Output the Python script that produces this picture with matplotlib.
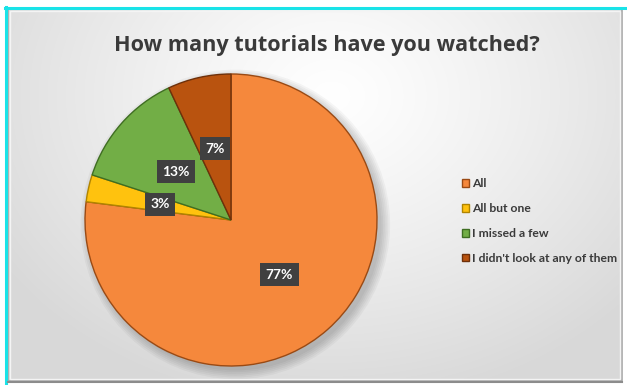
import numpy as np
import matplotlib
matplotlib.use("Agg")
import matplotlib.pyplot as plt
from matplotlib.patches import Rectangle, Circle

plt.rcParams['font.family'] = ['Lato', 'DejaVu Sans']

title = "How many tutorials have you watched?"
answers = ["All", "All but one", "I missed a few", "I didn't look at any of them"]
shares = [77, 3, 13, 7]
colors = ["#F5883C", "#FFC20E", "#72AE46", "#B9530F"]
edges = ["#9A4A14", "#B08400", "#3F6E22", "#6E300A"]

W, H = 627, 385
fig = plt.figure(figsize=(W / 100, H / 100), dpi=100)
fig.patch.set_facecolor("white")

# background panel with soft grey gradient
bg = fig.add_axes([0, 0, 1, 1], zorder=0)
bg.set_xlim(0, W)
bg.set_ylim(H, 0)
bg.axis("off")
yy, xx = np.mgrid[0:H, 0:W]
d = np.sqrt(((xx - 330) / 400.0) ** 2 + ((yy - 90) / 320.0) ** 2)
shade = 1.0 - 0.15 * np.clip(d, 0, 1) ** 1.2
img = np.dstack([shade, shade, shade])
bg.imshow(img, extent=(8, 622, 381, 9), aspect="auto", zorder=0)
# bevelled frame
bg.add_patch(Rectangle((8, 9), 614, 372, fill=False, ec="#a8a8a8", lw=1.2, zorder=1))
bg.add_patch(Rectangle((10, 11), 610, 368, fill=False, ec="#f4f4f4", lw=1.0, zorder=1))
bg.plot([5.5, 5.5], [7, 383], color="#19E3E8", lw=2.2, zorder=2)
bg.plot([5, W], [7.5, 7.5], color="#19E3E8", lw=2.2, zorder=2)
bg.plot([8, 622], [381.5, 381.5], color="#8c8c8c", lw=1.5, zorder=2)

fig.text(327 / W, 1 - 46 / H, title, ha="center", va="center",
         fontsize=15.6, fontweight="bold", color="#3a3a3a", zorder=5,
         family=["Open Sans", "DejaVu Sans"])

# pie
cx, cy, r = 231, 220, 146
ax = fig.add_axes([(cx - r) / W, (H - cy - r) / H, 2 * r / W, 2 * r / H], zorder=3)
for k in range(6):
    ax.add_patch(Circle((0.03, -0.03), 1.0 + 0.012 * k, color="black",
                        alpha=0.035, lw=0, zorder=0, clip_on=False))

wedges, _ = ax.pie(shares, colors=colors, startangle=90, counterclock=False,
                   radius=1.0, center=(0, 0), frame=True,
                   wedgeprops=dict(linewidth=1.0))
for w, ec in zip(wedges, edges):
    w.set_edgecolor(ec)
    w.set_clip_on(False)
ax.set_xlim(-1.0, 1.0)
ax.set_ylim(-1.0, 1.0)
ax.axis("off")

for w, v in zip(wedges, shares):
    ang = np.deg2rad((w.theta1 + w.theta2) / 2)
    ax.text(0.5 * np.cos(ang), 0.5 * np.sin(ang), f"{v}%",
            ha="center", va="center", fontsize=10, fontweight="bold", color="white",
            bbox=dict(boxstyle="square,pad=0.4", fc="#404040", ec="none"), zorder=6)

leg = fig.legend(wedges, answers, loc="center left", bbox_to_anchor=(451 / W, 1 - 221 / H),
                 frameon=False, handlelength=0.6, handleheight=0.6, handletextpad=0.25,
                 labelspacing=1.15, prop=dict(size=8.7, weight="bold"))
for t in leg.get_texts():
    t.set_color("#3a3a3a")

fig.savefig("out.png", dpi=100)
